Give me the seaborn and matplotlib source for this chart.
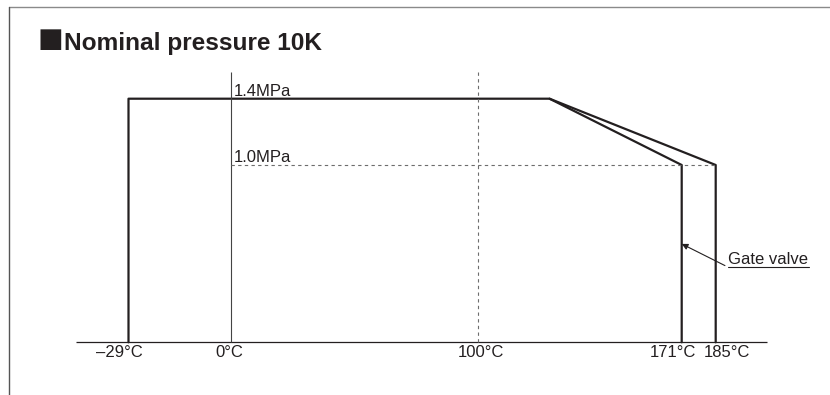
import numpy as np
import pandas as pd
import matplotlib
matplotlib.use("Agg")
import matplotlib.pyplot as plt
from matplotlib.lines import Line2D
from matplotlib.text import Text
import seaborn as sns

# Data (schematic pressure-temperature rating)
temp_ticks = [-29, 0, 100, 171, 185]
tick_labels = ["–29°C", "0°C", "100°C", "171°C", "185°C"]
body_temps = [-29, -29, 125, 185, 185]
body_press = [0, 1.4, 1.4, 1.0, 0]
gate_temps = [125, 171, 171]
gate_press = [1.4, 1.0, 0]
press_labels = [(1.4, "1.4MPa"), (1.0, "1.0MPa")]

# Layout: the drawing is schematic, so map values through piecewise scales
x_knots = [-80, -29, 0, 100, 171, 185, 260]
x_px = [-51, 128.5, 230.5, 477.7, 681.7, 715.7, 898]
y_knots = [-1, 0, 1.0, 1.4, 3]
y_px = [-124, 52.7, 230, 296.3, 562]
W, H = 830, 395
INK = "#231f20"
GRID = "#6d6d6d"

sns.set_style("white")
plt.rcParams["font.family"] = ["Liberation Sans", "DejaVu Sans"]


def fx(t):
    return np.interp(t, x_knots, x_px)


def ix(u):
    return np.interp(u, x_px, x_knots)


def fy(p):
    return np.interp(p, y_knots, y_px)


def iy(u):
    return np.interp(u, y_px, y_knots)


fig = plt.figure(figsize=(W / 100, H / 100), dpi=100)
ax = fig.add_axes([0, 0, 1, 1])
ax.set_xscale("function", functions=(fx, ix))
ax.set_yscale("function", functions=(fy, iy))
ax.set_xlim(ix(0), ix(W))
ax.set_ylim(iy(0), iy(H))
ax.axis("off")

df = pd.concat([
    pd.DataFrame({"temp": body_temps, "pressure": body_press, "series": "body"}),
    pd.DataFrame({"temp": gate_temps, "pressure": gate_press, "series": "gate"}),
])
sns.lineplot(data=df, x="temp", y="pressure", units="series", estimator=None,
             sort=False, color=INK, lw=1.6, ax=ax, legend=False)

# reference lines
ax.hlines(0, -44, 206, color=INK, lw=0.9)
ax.vlines(0, 0, 1.56, color="#444444", lw=0.8)
ax.vlines(100, 0, 1.56, color=GRID, lw=0.8, linestyles=(0, (3, 3)))
ax.hlines(1.0, 0, 185, color=GRID, lw=0.8, linestyles=(0, (3, 3)))

for p, lab in press_labels:
    ax.annotate(lab, xy=(0, p), xytext=(2.5, 0), textcoords="offset points",
                ha="left", va="bottom", fontsize=12, color=INK)

dx = [-6.3, -1, 2.4, -6.6, 7.8]
for t, lab, d in zip(temp_ticks, tick_labels, dx):
    ax.annotate(lab, xy=(t, 0), xytext=(d, -2), textcoords="offset points",
                ha="center", va="top", fontsize=12, color=INK)

# Gate valve callout
gv = ax.annotate("Gate valve", xy=(171, 0.555), xytext=(33.5, -16.8),
                 textcoords="offset points", ha="left", va="bottom",
                 fontsize=12, color=INK,
                 arrowprops=dict(arrowstyle="-|>", color=INK, lw=0.8,
                                 relpos=(0, 0), shrinkA=0, shrinkB=0,
                                 mutation_scale=9))
fig.canvas.draw()
bb = Text.get_window_extent(gv, fig.canvas.get_renderer())
x0, y0 = fig.transFigure.inverted().transform((bb.x0, bb.y0))
x1, _ = fig.transFigure.inverted().transform((bb.x1 + 1, bb.y0))
fig.add_artist(Line2D([x0, x1], [y0, y0], color=INK, lw=0.8))

# outer frame
fig.add_artist(Line2D([9 / W, 1], [1 - 7 / H, 1 - 7 / H], color="#8a8a8a", lw=1.0))
fig.add_artist(Line2D([9 / W, 9 / W], [0, 1 - 7 / H], color="#555555", lw=1.0))

fig.text(37.5 / W, 1 - 47.3 / H, "■", fontsize=19.5, family="DejaVu Sans",
         color=INK, va="baseline", ha="left")
fig.text(64 / W, 1 - 50 / H, "Nominal pressure 10K", fontsize=17.6,
         fontweight="bold", color=INK, va="baseline", ha="left")

fig.savefig("out.png", dpi=100)
